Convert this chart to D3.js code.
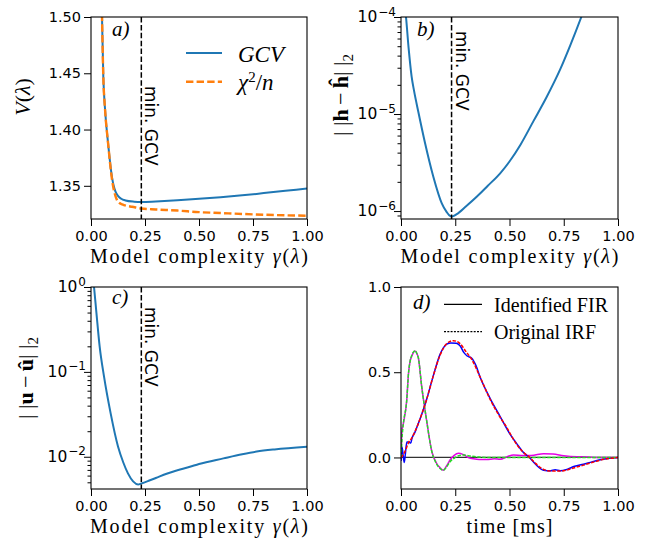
<!DOCTYPE html>
<html>
<head>
<meta charset="utf-8">
<script src="https://cdn.jsdelivr.net/npm/d3@7"></script>
<style>
  body { margin: 0; background: #fff; }
  svg { display: block; }
</style>
</head>
<body>
<div id="chart"></div>
<script>
// ---- data ----
const xTicks = [0, 0.25, 0.5, 0.75, 1.0];
const gcvMin = 0.233;

// a) V(lambda)
const gammaGcv = [0.046, 0.051, 0.057, 0.065, 0.079, 0.097, 0.105, 0.113, 0.125, 0.14, 0.16, 0.2, 0.233, 0.3, 0.4, 0.5, 0.6, 0.7, 0.8, 0.9, 1.0];
const gcv      = [1.55, 1.50, 1.447, 1.418, 1.388, 1.358, 1.350, 1.345, 1.341, 1.3385, 1.337, 1.3359, 1.3356, 1.3361, 1.3371, 1.3384, 1.3398, 1.3415, 1.3435, 1.3455, 1.3475];
const gammaChi = [0.046, 0.051, 0.057, 0.065, 0.079, 0.097, 0.105, 0.113, 0.12, 0.13, 0.145, 0.165, 0.19, 0.233, 0.3, 0.4, 0.5, 0.6, 0.7, 0.8, 0.9, 1.0];
const chi2n    = [1.55, 1.50, 1.447, 1.418, 1.388, 1.356, 1.347, 1.341, 1.3375, 1.335, 1.3335, 1.3322, 1.3314, 1.3298, 1.329, 1.328, 1.3266, 1.3258, 1.325, 1.3243, 1.3238, 1.3234];
const yTicksA  = [1.35, 1.40, 1.45, 1.50];

// b) ||h - h^||2
const gammaH = [0.018, 0.023, 0.035, 0.049, 0.06, 0.08, 0.111, 0.149, 0.188, 0.21, 0.226, 0.235, 0.257, 0.3, 0.35, 0.4, 0.457, 0.5, 0.55, 0.611, 0.67, 0.734, 0.78, 0.831, 0.86];
const errH   = [1.26e-4, 1.0e-4, 4.8e-5, 2.43e-5, 1.74e-5, 1.05e-5, 5.0e-6, 2.26e-6, 1.2e-6, 9.8e-7, 8.9e-7, 8.8e-7, 9.3e-7, 1.12e-6, 1.41e-6, 1.82e-6, 2.45e-6, 3.24e-6, 4.8e-6, 8.5e-6, 1.48e-5, 2.9e-5, 5.1e-5, 1.0e-4, 1.5e-4];
const yTicksB = [1e-6, 1e-5, 1e-4];

// c) ||u - u^||2
const gammaU = [0.008, 0.014, 0.025, 0.04, 0.06, 0.091, 0.125, 0.15, 0.171, 0.195, 0.218, 0.233, 0.27, 0.3, 0.35, 0.4, 0.458, 0.5, 0.613, 0.7, 0.767, 0.85, 1.0];
const errU   = [1.41, 1.0, 0.5, 0.2, 0.089, 0.0324, 0.0132, 0.0085, 0.00637, 0.00513, 0.00472, 0.00485, 0.00525, 0.00562, 0.00631, 0.00692, 0.00762, 0.00822, 0.00957, 0.0107, 0.0115, 0.0122, 0.0131];
const yTicksC = [1e-2, 1e-1, 1];

// d) impulse responses
const tBlue = [0, 0.005, 0.01, 0.015, 0.02, 0.027, 0.034, 0.045, 0.05, 0.065, 0.08, 0.1, 0.118, 0.149, 0.18, 0.211, 0.23, 0.255, 0.272, 0.29, 0.305, 0.326, 0.345, 0.365, 0.411, 0.457, 0.503, 0.534, 0.56, 0.593, 0.62, 0.657, 0.69, 0.71, 0.734, 0.765, 0.8, 0.841, 0.88, 0.918, 0.96, 1.0];
const firBlue = [-0.02, 0.06, 0.01, -0.03, 0.02, 0.09, 0.09, 0.085, 0.11, 0.15, 0.2, 0.27, 0.34, 0.48, 0.605, 0.665, 0.672, 0.67, 0.655, 0.615, 0.595, 0.582, 0.54, 0.47, 0.345, 0.24, 0.135, 0.08, 0.035, -0.002, -0.04, -0.075, -0.078, -0.072, -0.078, -0.07, -0.052, -0.04, -0.026, -0.014, -0.005, 0];
const tRed = [0, 0.01, 0.02, 0.034, 0.05, 0.08, 0.1, 0.118, 0.149, 0.18, 0.211, 0.242, 0.272, 0.3, 0.326, 0.365, 0.411, 0.457, 0.488, 0.503, 0.534, 0.56, 0.593, 0.62, 0.657, 0.69, 0.734, 0.765, 0.8, 0.841, 0.88, 0.918, 0.96, 1.0];
const irfRed = [0, 0.015, 0.04, 0.085, 0.115, 0.2, 0.27, 0.34, 0.48, 0.6, 0.668, 0.685, 0.668, 0.62, 0.575, 0.47, 0.34, 0.235, 0.175, 0.14, 0.075, 0.035, 0.0, -0.035, -0.07, -0.08, -0.08, -0.074, -0.06, -0.045, -0.03, -0.016, -0.006, 0];
const tMag = [0, 0.004, 0.011, 0.026, 0.035, 0.042, 0.05, 0.057, 0.065, 0.073, 0.08, 0.095, 0.118, 0.142, 0.165, 0.18, 0.195, 0.21, 0.226, 0.245, 0.265, 0.285, 0.31, 0.334, 0.36, 0.395, 0.43, 0.457, 0.49, 0.518, 0.56, 0.6, 0.657, 0.7, 0.75, 0.81, 0.86, 0.9, 1.0];
const firMag = [-0.02, 0.15, 0.2, 0.33, 0.5, 0.565, 0.595, 0.615, 0.625, 0.61, 0.585, 0.42, 0.218, 0.035, -0.037, -0.06, -0.075, -0.05, -0.015, 0.012, 0.024, 0.018, 0.0, -0.008, -0.012, -0.012, -0.008, -0.01, 0.005, 0.015, 0.012, 0.012, 0.022, 0.02, 0.01, 0.004, 0.003, 0.0, 0.0];
const tGrn = [0, 0.004, 0.011, 0.026, 0.035, 0.042, 0.05, 0.057, 0.065, 0.073, 0.08, 0.095, 0.118, 0.142, 0.165, 0.18, 0.195, 0.21, 0.226, 0.25, 0.27, 0.29, 0.32, 0.36, 0.42, 0.5, 0.6, 0.7, 0.8, 0.9, 1.0];
const irfGrn = [0, 0.1, 0.2, 0.33, 0.5, 0.565, 0.6, 0.618, 0.628, 0.61, 0.585, 0.42, 0.218, 0.035, -0.04, -0.065, -0.075, -0.055, -0.025, 0.0, 0.012, 0.014, 0.008, 0.002, 0.0, 0.0, 0.0, 0.0, 0.0, 0.0, 0.0];
const yTicksD = [0, 0.5, 1.0];

// ---- drawing ----
const W = 647, H = 546;
const serif = '"Liberation Serif", "Times New Roman", serif';
const sans = '"DejaVu Sans", sans-serif';

const svg = d3.select('#chart').append('svg')
  .attr('width', W).attr('height', H);

function panel(p) {
  const x = d3.scaleLinear().domain([0, 1]).range([p.x0, p.x1]);
  const y = (p.log ? d3.scaleLog() : d3.scaleLinear()).domain(p.yDomain).range([p.y1, p.y0]);
  const g = svg.append('g');

  const cid = 'clip-' + p.id;
  svg.append('clipPath').attr('id', cid).append('rect')
    .attr('x', p.x0).attr('y', p.y0)
    .attr('width', p.x1 - p.x0).attr('height', p.y1 - p.y0);

  // x axis
  const xa = g.append('g')
    .attr('transform', `translate(0,${p.y1})`)
    .call(d3.axisBottom(x).tickValues(xTicks).tickFormat(d3.format('.2f')).tickSize(7).tickPadding(5));

  // y axis
  let ya;
  if (p.log) {
    const minor = [];
    const lo = Math.floor(Math.log10(p.yDomain[0])), hi = Math.ceil(Math.log10(p.yDomain[1]));
    for (let k = lo; k < hi; k++) {
      for (let m = 2; m <= 9; m++) {
        const v = m * Math.pow(10, k);
        if (v >= p.yDomain[0] && v <= p.yDomain[1]) minor.push(v);
      }
    }
    g.append('g')
      .attr('transform', `translate(${p.x0},0)`)
      .call(d3.axisLeft(y).tickValues(minor).tickFormat('').tickSize(3.5))
      .call(s => s.select('.domain').remove());
    ya = g.append('g')
      .attr('transform', `translate(${p.x0},0)`)
      .call(d3.axisLeft(y).tickValues(p.yTicks).tickFormat('').tickSize(7).tickPadding(-2));
    ya.selectAll('.tick text').each(function(d) {
      const t = d3.select(this);
      const e = Math.round(Math.log10(d));
      t.append('tspan').attr('font-size', '15.5px').text('10');
      t.append('tspan').attr('dy', '-0.55em').attr('dx', '1').attr('font-size', '12px')
        .text(String(e).replace('-', '\u2212'));
    });
  } else {
    ya = g.append('g')
      .attr('transform', `translate(${p.x0},0)`)
      .call(d3.axisLeft(y).tickValues(p.yTicks).tickFormat(d3.format(p.yFormat)).tickSize(7).tickPadding(3));
  }

  [xa, ya].forEach(a => {
    a.select('.domain').remove();
    a.selectAll('text').attr('font-family', sans).attr('font-size', '14.5px').attr('fill', '#000');
  });
  g.selectAll('.tick line').attr('stroke', '#000').attr('stroke-width', 1);

  const plot = g.append('g').attr('clip-path', `url(#${cid})`);

  // frame drawn last, on top of the curves
  const frame = () => g.append('rect')
    .attr('x', p.x0).attr('y', p.y0)
    .attr('width', p.x1 - p.x0).attr('height', p.y1 - p.y0)
    .attr('fill', 'none').attr('stroke', '#000').attr('stroke-width', 1.1);

  return { x, y, g, plot, frame, p };
}

function addLine(P, xs, ys, color, width, dash) {
  const line = d3.line()
    .x(d => P.x(d[0])).y(d => P.y(d[1]))
    .curve(d3.curveMonotoneX);
  P.plot.append('path')
    .datum(xs.map((v, i) => [v, ys[i]]))
    .attr('d', line)
    .attr('fill', 'none')
    .attr('stroke', color)
    .attr('stroke-width', width)
    .attr('stroke-dasharray', dash || null);
}

function minGcv(P, textY) {
  const lx = P.x(gcvMin);
  P.plot.append('line')
    .attr('x1', lx).attr('x2', lx).attr('y1', P.p.y0).attr('y2', P.p.y1)
    .attr('stroke', '#000').attr('stroke-width', 1.5).attr('stroke-dasharray', '5.5,2.4');
  P.g.append('text')
    .attr('transform', `translate(${lx + 4},${textY}) rotate(90)`)
    .attr('font-family', sans).attr('font-size', '17px')
    .text('min. GCV');
}

function panelLabel(P, x, y, s) {
  P.g.append('text').attr('x', x).attr('y', y)
    .attr('font-family', serif).attr('font-style', 'italic').attr('font-size', '21px')
    .text(s);
}

function xLabel(P, parts, len) {
  const t = P.g.append('text')
    .attr('x', (P.p.x0 + P.p.x1) / 2).attr('y', P.p.y1 + 44)
    .attr('text-anchor', 'middle')
    .attr('font-family', serif).attr('font-size', '20px')
    .attr('textLength', len).attr('lengthAdjust', 'spacing');
  parts.forEach(([s, it]) => t.append('tspan').attr('font-style', it ? 'italic' : null).text(s));
}

function yLabel(P, x, cy, parts) {
  const t = P.g.append('text')
    .attr('transform', `translate(${x},${cy}) rotate(-90)`)
    .attr('text-anchor', 'middle')
    .attr('font-family', serif).attr('font-size', '22px');
  parts.forEach(([s, style]) => {
    const ts = t.append('tspan').text(s);
    if (style === 'i') ts.attr('font-style', 'italic');
    if (style === 'b') ts.attr('font-weight', 'bold');
    if (style === 'sub') ts.attr('font-size', '15px').attr('dy', '0.3em');
  });
}

const complexity = [['Model complexity '], ['\u03b3', true], ['('], ['\u03bb', true], [')']];

// ---- panel a ----
const A = panel({ id: 'a', x0: 91, x1: 307, y0: 17, y1: 219, yDomain: [1.3205, 1.50], yTicks: yTicksA, yFormat: '.2f' });
addLine(A, gammaGcv, gcv, '#1f77b4', 2);
addLine(A, gammaChi, chi2n, '#ff7f0e', 2.4, '7.4,3.2');
minGcv(A, 86);
panelLabel(A, 112, 36, 'a)');
xLabel(A, complexity, 218);
yLabel(A, 30, 97, [['V', 'i'], ['('], ['\u03bb', 'i'], [')']]);
// legend
A.g.append('line').attr('x1', 186).attr('x2', 222).attr('y1', 53).attr('y2', 53)
  .attr('stroke', '#1f77b4').attr('stroke-width', 2);
A.g.append('line').attr('x1', 186).attr('x2', 222).attr('y1', 81.7).attr('y2', 81.7)
  .attr('stroke', '#ff7f0e').attr('stroke-width', 2.4).attr('stroke-dasharray', '7.4,3.2');
A.g.append('text').attr('x', 238).attr('y', 61.5)
  .attr('font-family', serif).attr('font-style', 'italic').attr('font-size', '23px').text('GCV');
{
  const t = A.g.append('text').attr('x', 238).attr('y', 90)
    .attr('font-family', serif).attr('font-size', '23px');
  t.append('tspan').attr('font-style', 'italic').text('\u03c7');
  t.append('tspan').attr('font-size', '15px').attr('dy', '-0.55em').text('2');
  t.append('tspan').attr('dy', '0.35em').text('/');
  t.append('tspan').attr('font-style', 'italic').text('n');
}
A.frame();

// ---- panel b ----
const B = panel({ id: 'b', x0: 401, x1: 618, y0: 17, y1: 219, log: true, yDomain: [8.28e-7, 1e-4], yTicks: yTicksB });
addLine(B, gammaH, errH, '#1f77b4', 2);
minGcv(B, 31);
panelLabel(B, 417, 36, 'b)');
xLabel(B, complexity, 218);
yLabel(B, 348, 95, [['| |'], ['h', 'b'], ['\u2009\u2212\u2009'], ['\u0125', 'b'], ['| |'], ['2', 'sub']]);
B.frame();

// ---- panel c ----
const C = panel({ id: 'c', x0: 91, x1: 307, y0: 287, y1: 489, log: true, yDomain: [4.17e-3, 1], yTicks: yTicksC });
addLine(C, gammaU, errU, '#1f77b4', 2);
minGcv(C, 307);
panelLabel(C, 112, 304, 'c)');
xLabel(C, complexity, 218);
yLabel(C, 33, 378, [['| |'], ['u', 'b'], ['\u2009\u2212\u2009'], ['\u00fb', 'b'], ['| |'], ['2', 'sub']]);
C.frame();

// ---- panel d ----
const D = panel({ id: 'd', x0: 401, x1: 618, y0: 287, y1: 489, yDomain: [-0.185, 1.0], yTicks: yTicksD, yFormat: '.1f' });
D.plot.append('line')
  .attr('x1', D.x(0)).attr('x2', D.x(1)).attr('y1', D.y(0)).attr('y2', D.y(0))
  .attr('stroke', '#333').attr('stroke-width', 1.3);
addLine(D, tMag, firMag, '#e600e6', 1.5);
addLine(D, tBlue, firBlue, '#0000ff', 1.5);
addLine(D, tGrn, irfGrn, '#22dd22', 1.5, '3.5,1.5');
addLine(D, tRed, irfRed, '#ff0000', 1.5, '3.5,1.5');
panelLabel(D, 413, 309, 'd)');
xLabel(D, [['time [ms]']], 86);
// legend
D.g.append('line').attr('x1', 444).attr('x2', 482).attr('y1', 304.3).attr('y2', 304.3)
  .attr('stroke', '#000').attr('stroke-width', 1.2);
D.g.append('line').attr('x1', 444).attr('x2', 482).attr('y1', 331.7).attr('y2', 331.7)
  .attr('stroke', '#000').attr('stroke-width', 1.2).attr('stroke-dasharray', '2,1.3');
D.g.append('text').attr('x', 494).attr('y', 311.5)
  .attr('font-family', serif).attr('font-size', '20px')
  .attr('textLength', 114).attr('lengthAdjust', 'spacing').text('Identified FIR');
D.g.append('text').attr('x', 494).attr('y', 338.5)
  .attr('font-family', serif).attr('font-size', '20px')
  .attr('textLength', 102).attr('lengthAdjust', 'spacing').text('Original IRF');
D.frame();
</script>
</body>
</html>
